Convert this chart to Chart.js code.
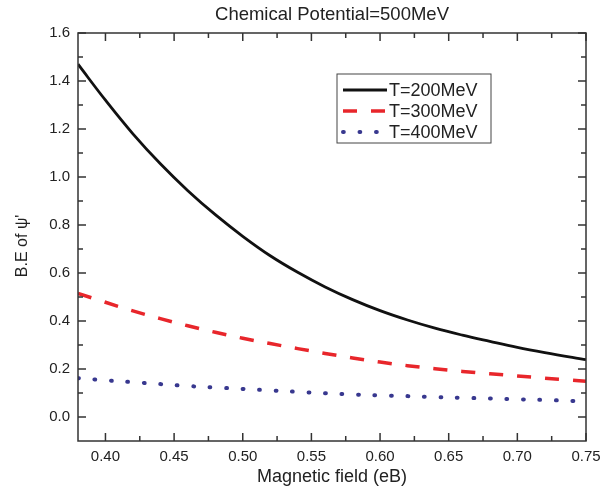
<!DOCTYPE html>
<html>
<head>
<meta charset="utf-8">
<script src="https://cdn.jsdelivr.net/npm/chart.js@4.4.0/dist/chart.umd.min.js"></script>
<style>
  html, body { margin: 0; padding: 0; background: #fff; }
</style>
</head>
<body>
<canvas id="chart" width="614" height="490"></canvas>
<script>
// magnetic field values (eB) and binding energy of psi' for each temperature
const field = [0.38, 0.40, 0.42, 0.44, 0.46, 0.48, 0.50, 0.52, 0.54, 0.56, 0.58,
               0.60, 0.62, 0.64, 0.66, 0.68, 0.70, 0.72, 0.74, 0.75];
const t200 = [1.47, 1.32, 1.18, 1.055, 0.943, 0.843, 0.753, 0.672, 0.603, 0.542, 0.489,
              0.443, 0.404, 0.370, 0.341, 0.315, 0.290, 0.268, 0.248, 0.239];
const t300 = [0.515, 0.478, 0.442, 0.41, 0.38, 0.353, 0.328, 0.306, 0.285, 0.265, 0.246,
              0.229, 0.214, 0.201, 0.19, 0.18, 0.171, 0.162, 0.153, 0.149];
const t400 = [0.162, 0.153, 0.145, 0.137, 0.129, 0.123, 0.117, 0.111, 0.105, 0.099, 0.094,
              0.09, 0.087, 0.083, 0.08, 0.077, 0.074, 0.071, 0.067, 0.065];
const seriesLabels = ["T=200MeV", "T=300MeV", "T=400MeV"];
const titleText = "Chemical Potential=500MeV";

const xTicks = [0.40, 0.45, 0.50, 0.55, 0.60, 0.65, 0.70, 0.75];
const yTicks = [0.0, 0.2, 0.4, 0.6, 0.8, 1.0, 1.2, 1.4, 1.6];

const fontFamily = "'Liberation Sans', Arial, sans-serif";
Chart.defaults.font.family = fontFamily;
Chart.defaults.color = "#222";

function points(ys) {
    return field.map((x, i) => ({ x: x, y: ys[i] }));
}

// box around the plot, inward major/minor ticks on all sides, title over the plot
const frameTicks = {
    id: "frameTicks",
    afterDraw(chart) {
        const { ctx, chartArea: a, scales: { x, y } } = chart;
        ctx.save();
        ctx.strokeStyle = "#333";
        ctx.lineWidth = 1.5;
        ctx.strokeRect(a.left, a.top, a.right - a.left, a.bottom - a.top);

        const xMinor = xTicks.map(v => +(v - 0.025).toFixed(3)).filter(v => v > x.min && v < x.max);
        const yMinor = yTicks.map(v => +(v + 0.1).toFixed(2)).filter(v => v > y.min && v < y.max);

        ctx.beginPath();
        const xt = (v, len) => {
            const px = x.getPixelForValue(v);
            ctx.moveTo(px, a.bottom); ctx.lineTo(px, a.bottom - len);
            ctx.moveTo(px, a.top); ctx.lineTo(px, a.top + len);
        };
        const yt = (v, len) => {
            const py = y.getPixelForValue(v);
            ctx.moveTo(a.left, py); ctx.lineTo(a.left + len, py);
            ctx.moveTo(a.right, py); ctx.lineTo(a.right - len, py);
        };
        xTicks.forEach(v => xt(v, 8));
        xMinor.forEach(v => xt(v, 5));
        yTicks.forEach(v => yt(v, 8));
        yMinor.forEach(v => yt(v, 5));
        ctx.stroke();

        ctx.fillStyle = "#222";
        ctx.font = "18.5px " + fontFamily;
        ctx.textAlign = "center";
        ctx.textBaseline = "middle";
        ctx.fillText(titleText, (a.left + a.right) / 2, 15);
        ctx.restore();
    }
};

// boxed legend inside the plot, drawn from the dataset styles
const boxLegend = {
    id: "boxLegend",
    afterDraw(chart) {
        const { ctx, chartArea: a } = chart;
        const left = a.left + 259, top = a.top + 41, w = 154, h = 69;
        ctx.save();
        ctx.strokeStyle = "#444";
        ctx.lineWidth = 1;
        ctx.strokeRect(left, top, w, h);
        ctx.font = "18px " + fontFamily;
        ctx.fillStyle = "#222";
        ctx.textBaseline = "middle";
        chart.data.datasets.forEach((ds, i) => {
            const cy = top + 16 + i * 21;
            ctx.save();
            ctx.strokeStyle = ds.borderColor;
            ctx.lineWidth = ds.borderWidth;
            ctx.lineCap = ds.borderCapStyle || "butt";
            ctx.setLineDash(ds.borderDash || []);
            ctx.beginPath();
            ctx.moveTo(left + 6, cy);
            ctx.lineTo(left + 50, cy);
            ctx.stroke();
            ctx.restore();
            ctx.fillText(ds.label, left + 52, cy + 1);
        });
        ctx.restore();
    }
};

new Chart(document.getElementById("chart"), {
    type: "line",
    data: {
        datasets: [
            {
                label: seriesLabels[0],
                data: points(t200),
                borderColor: "#111",
                borderWidth: 2.8
            },
            {
                label: seriesLabels[1],
                data: points(t300),
                borderColor: "#e8262b",
                borderWidth: 3.5,
                borderDash: [14, 14]
            },
            {
                label: seriesLabels[2],
                data: points(t400),
                borderColor: "#38388f",
                borderWidth: 4,
                borderDash: [0.8, 15.7],
                borderCapStyle: "round"
            }
        ]
    },
    options: {
        responsive: false,
        animation: false,
        elements: {
            point: { radius: 0 },
            line: { tension: 0.4, fill: false }
        },
        layout: { padding: { left: 0, right: 28, top: 33, bottom: 0 } },
        plugins: {
            legend: { display: false },
            tooltip: { enabled: false },
            title: { display: false }
        },
        scales: {
            x: {
                type: "linear",
                min: 0.38,
                max: 0.75,
                grid: { display: false, drawTicks: false },
                border: { display: false },
                afterBuildTicks: s => { s.ticks = xTicks.map(v => ({ value: v })); },
                afterFit: s => { s.height = 49; },
                ticks: {
                    padding: 7,
                    font: { size: 15 },
                    color: "#222",
                    maxRotation: 0,
                    callback: v => v.toFixed(2)
                },
                title: {
                    display: true,
                    text: "Magnetic field (eB)",
                    color: "#222",
                    font: { size: 18 },
                    padding: { top: 0, bottom: 2 }
                }
            },
            y: {
                min: -0.1,
                max: 1.6,
                grid: { display: false, drawTicks: false },
                border: { display: false },
                afterBuildTicks: s => { s.ticks = yTicks.map(v => ({ value: v })); },
                afterFit: s => { s.width = 78; },
                ticks: {
                    padding: 8,
                    font: { size: 15 },
                    color: "#222",
                    callback: v => v.toFixed(1)
                },
                title: {
                    display: true,
                    text: "B.E of ψ'    ",
                    color: "#222",
                    font: { size: 16 },
                    padding: { top: 13, bottom: 0 }
                }
            }
        }
    },
    plugins: [frameTicks, boxLegend]
});
</script>
</body>
</html>
